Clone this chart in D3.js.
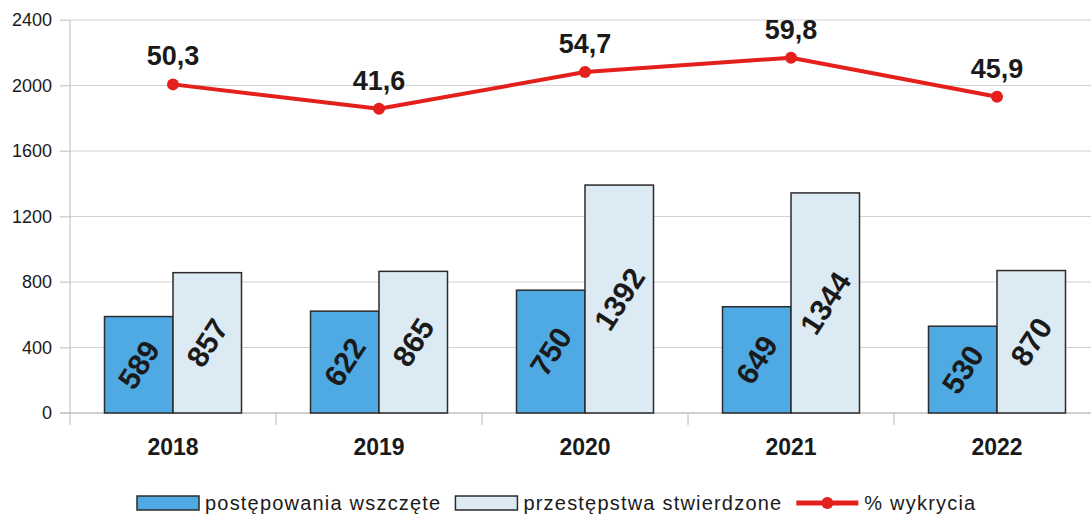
<!DOCTYPE html>
<html>
<head>
<meta charset="utf-8">
<script src="https://cdn.jsdelivr.net/npm/d3@7"></script>
<style>
  html, body { margin: 0; padding: 0; background: #fff; }
  svg { display: block; }
  text { font-family: "Liberation Sans", Arial, sans-serif; fill: #1a1a1a; }
</style>
</head>
<body>
<svg id="chart" width="1091" height="515"></svg>
<script>
const years = ["2018", "2019", "2020", "2021", "2022"];
const wszczete = [589, 622, 750, 649, 530];
const stwierdzone = [857, 865, 1392, 1344, 870];
const wykrycia = [50.3, 41.6, 54.7, 59.8, 45.9];
const yTicks = [0, 400, 800, 1200, 1600, 2000, 2400];
const seriesNames = ["postępowania wszczęte", "przestępstwa stwierdzone", "% wykrycia"];

const colors = { blue: "#4fa9e2", light: "#dceaf4", red: "#e3201c", stroke: "#2b2b2b", grid: "#d2d2d2", axis: "#b8b8b8" };

const svg = d3.select("#chart");
const plotL = 70, plotR = 1100, plotT = 20, plotB = 413;

const x0 = d3.scaleBand().domain(years).range([plotL, plotR]).paddingInner(0.335).paddingOuter(0.1675);
const x1 = d3.scaleBand().domain([0, 1]).range([0, x0.bandwidth()]);
const y = d3.scaleLinear().domain([0, 2400]).range([plotB, plotT]);
const y2 = d3.scaleLinear().domain([-66.6, 73.2]).range([plotB, plotT]);
const xc = d => x0(d) + x0.bandwidth() / 2;

// gridlines
svg.append("g").selectAll("line").data(yTicks).join("line")
  .attr("x1", 60).attr("x2", 1091)
  .attr("y1", d => y(d)).attr("y2", d => y(d))
  .attr("stroke", colors.grid).attr("stroke-width", 1);

// y axis
const yAxis = svg.append("g").attr("transform", `translate(${plotL},0)`)
  .call(d3.axisLeft(y).tickValues(yTicks).tickSize(10).tickPadding(8).tickFormat(d3.format("d")));
yAxis.select(".domain").remove();
yAxis.selectAll(".tick line").attr("stroke", colors.grid);
yAxis.selectAll(".tick text").attr("font-size", 18).attr("fill", "#1a1a1a")
  .attr("font-family", "Liberation Sans, Arial, sans-serif");
svg.append("line").attr("x1", plotL).attr("x2", plotL).attr("y1", plotT).attr("y2", plotB + 12)
  .attr("stroke", colors.axis).attr("stroke-width", 1);

// x axis baseline and separators
svg.append("line").attr("x1", 60).attr("x2", 1091).attr("y1", plotB).attr("y2", plotB)
  .attr("stroke", colors.axis).attr("stroke-width", 1);
svg.append("g").selectAll("line").data(years.slice(1)).join("line")
  .attr("x1", d => x0(d) - x0.step() * 0.335 / 2).attr("x2", d => x0(d) - x0.step() * 0.335 / 2)
  .attr("y1", plotB).attr("y2", plotB + 12)
  .attr("stroke", colors.axis).attr("stroke-width", 1);

// category labels
svg.append("g").selectAll("text").data(years).join("text")
  .attr("x", d => xc(d)).attr("y", 455)
  .attr("text-anchor", "middle").attr("font-size", 23).attr("font-weight", "bold")
  .text(d => d);

// bars
const barData = [];
years.forEach((yr, i) => {
  barData.push({ yr, s: 0, v: wszczete[i] });
  barData.push({ yr, s: 1, v: stwierdzone[i] });
});
const bars = svg.append("g");
bars.selectAll("rect").data(barData).join("rect")
  .attr("x", d => x0(d.yr) + x1(d.s))
  .attr("width", x1.bandwidth())
  .attr("y", d => y(d.v))
  .attr("height", d => y(0) - y(d.v))
  .attr("fill", d => d.s === 0 ? colors.blue : colors.light)
  .attr("stroke", colors.stroke).attr("stroke-width", 1.5);

bars.selectAll("text").data(barData).join("text")
  .attr("transform", d => {
    const cx = x0(d.yr) + x1(d.s) + x1.bandwidth() / 2;
    const cy = (y(d.v) + y(0)) / 2;
    return `translate(${cx},${cy}) rotate(-57)`;
  })
  .attr("text-anchor", "middle").attr("dominant-baseline", "central")
  .attr("font-size", 30).attr("font-weight", "bold")
  .text(d => d.v);

// line
const line = d3.line().x((d, i) => xc(years[i])).y(d => y2(d));
svg.append("path").datum(wykrycia)
  .attr("d", line).attr("fill", "none")
  .attr("stroke", colors.red).attr("stroke-width", 4).attr("stroke-linejoin", "round");
svg.append("g").selectAll("circle").data(wykrycia).join("circle")
  .attr("cx", (d, i) => xc(years[i])).attr("cy", d => y2(d)).attr("r", 6)
  .attr("fill", colors.red);
svg.append("g").selectAll("text").data(wykrycia).join("text")
  .attr("x", (d, i) => xc(years[i])).attr("y", d => y2(d) - 19)
  .attr("text-anchor", "middle").attr("font-size", 27).attr("font-weight", "bold")
  .text(d => d.toFixed(1).replace(".", ","));

// legend
const lg = svg.append("g");
let lx = 137;
const ly = 503;
seriesNames.forEach((name, i) => {
  if (i < 2) {
    lg.append("rect").attr("x", lx).attr("y", ly - 7).attr("width", 62).attr("height", 14)
      .attr("fill", i === 0 ? colors.blue : colors.light)
      .attr("stroke", colors.stroke).attr("stroke-width", 1.5);
  } else {
    lg.append("line").attr("x1", lx).attr("x2", lx + 62).attr("y1", ly).attr("y2", ly)
      .attr("stroke", colors.red).attr("stroke-width", 5);
    lg.append("circle").attr("cx", lx + 31).attr("cy", ly).attr("r", 6).attr("fill", colors.red);
  }
  lx += 68;
  const t = lg.append("text").attr("x", lx).attr("y", ly + 7)
    .attr("font-size", 20).attr("letter-spacing", 1.2).text(name);
  lx += t.node().getComputedTextLength() + 14;
});
</script>
</body>
</html>
